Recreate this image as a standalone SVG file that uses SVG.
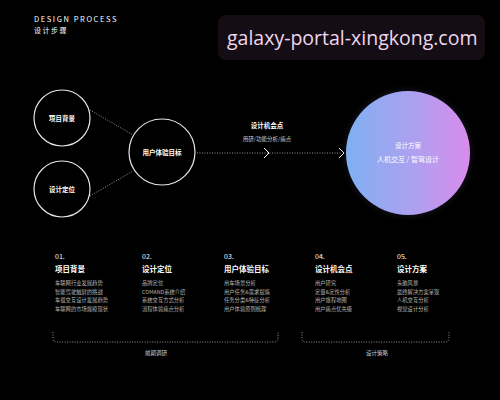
<svg xmlns="http://www.w3.org/2000/svg" width="500" height="400" viewBox="0 0 500 400">
<defs>
<linearGradient id="g" x1="0" y1="0" x2="1" y2="0">
<stop offset="0" stop-color="#7fb0f2"/>
<stop offset="0.5" stop-color="#a9a2f0"/>
<stop offset="1" stop-color="#d98cec"/>
</linearGradient>
<radialGradient id="glow" cx="0.5" cy="0.5" r="0.5">
<stop offset="0.8" stop-color="#7a6ab0" stop-opacity="0.35"/>
<stop offset="1" stop-color="#000" stop-opacity="0"/>
</radialGradient>
<style>
text{font-family:"Noto Sans CJK SC","Noto Sans",sans-serif;fill:#fff}
.ring{fill:none;stroke:#e6e6e6;stroke-width:1.2}
.lbl{font-size:6.5px;font-weight:bold;text-anchor:middle}
.dot{fill:none;stroke:#bbb;stroke-width:0.8;stroke-dasharray:1 1.5}
.num{font-size:7px}
.ttl{font-size:7.5px;font-weight:bold}
.ln{font-size:5.3px;fill:#b5b5b5}
.sm{font-size:5.5px;fill:#cfcfcf;text-anchor:middle}
</style>
</defs>
<rect width="500" height="400" fill="#000"/>
<text x="34" y="22" style="font-size:7.5px;letter-spacing:1.6px" font-family="Liberation Sans,sans-serif">DESIGN PROCESS</text>
<text x="34" y="33" style="font-size:7px;letter-spacing:1.5px">设计步骤</text>
<g id="watermark">
<rect x="218" y="15" width="267" height="45" rx="8" fill="#140e14"/>
<text x="227" y="45" style="font-size:19.5px;fill:#f0d6ee;font-family:'Open Sans',sans-serif">galaxy-portal-xingkong.com</text>
</g>
<g id="connectors">
<line class="dot" x1="90" y1="110" x2="133" y2="135"/>
<line class="dot" x1="90" y1="196" x2="133" y2="171"/>
<line class="dot" x1="197" y1="153" x2="342" y2="153"/>
<polyline points="264,148 269,153 264,158" fill="none" stroke="#fff" stroke-width="1"/>
<polyline points="339,148 344,153 339,158" fill="none" stroke="#fff" stroke-width="1"/>
<path class="dot" d="M53,332 v6 q0,4 4,4 h217 q4,0 4,-4 v-6"/>
<path class="dot" d="M302,332 v6 q0,4 4,4 h139 q4,0 4,-4 v-6"/>
</g>
<g id="n1"><circle class="ring" cx="62" cy="118" r="28"/><text class="lbl" x="62" y="120.5">项目背景</text></g>
<g id="n2"><circle class="ring" cx="62" cy="189" r="28"/><text class="lbl" x="62" y="191.5">设计定位</text></g>
<g id="n3"><circle class="ring" cx="162" cy="152" r="33"/><text class="lbl" x="162" y="154.5">用户体验目标</text></g>
<g id="label-mid">
<text class="lbl" x="267" y="128">设计机会点</text>
<text class="sm" x="267" y="141">用研/功能分析/痛点</text>
</g>
<g id="n4">
<circle cx="408" cy="153" r="70" fill="url(#glow)"/>
<circle cx="408" cy="153" r="62" fill="url(#g)"/>
<text x="408" y="148" style="font-size:6.5px;text-anchor:middle">设计方案</text>
<text x="408" y="162" style="font-size:7px;text-anchor:middle">人机交互 / 智驾设计</text>
</g>
<g id="col1">
<text class="num" x="55" y="259">01.</text>
<text class="ttl" x="55" y="272">项目背景</text>
<text class="ln" x="55" y="285">车联网行业发展趋势</text>
<text class="ln" x="55" y="293.5">智能驾驶触屏的挑战</text>
<text class="ln" x="55" y="302">车载交互设计发展趋势</text>
<text class="ln" x="55" y="310.5">车联网的市场规模现状</text>
</g>
<g id="col2">
<text class="num" x="142" y="259">02.</text>
<text class="ttl" x="142" y="272">设计定位</text>
<text class="ln" x="142" y="285">品牌定位</text>
<text class="ln" x="142" y="293.5">COMAND系统介绍</text>
<text class="ln" x="142" y="302">系统交互方式分析</text>
<text class="ln" x="142" y="310.5">流程体验痛点分析</text>
</g>
<g id="col3">
<text class="num" x="224" y="259">03.</text>
<text class="ttl" x="224" y="272">用户体验目标</text>
<text class="ln" x="224" y="285">用车场景分析</text>
<text class="ln" x="224" y="293.5">用户任务&amp;需求提炼</text>
<text class="ln" x="224" y="302">任务分类&amp;特征分析</text>
<text class="ln" x="224" y="310.5">用户体验原则梳理</text>
</g>
<g id="col4">
<text class="num" x="315" y="259">04.</text>
<text class="ttl" x="315" y="272">设计机会点</text>
<text class="ln" x="315" y="285">用户研究</text>
<text class="ln" x="315" y="293.5">定量&amp;定性分析</text>
<text class="ln" x="315" y="302">用户旅程地图</text>
<text class="ln" x="315" y="310.5">用户痛点优先级</text>
</g>
<g id="col5">
<text class="num" x="397" y="259">05.</text>
<text class="ttl" x="397" y="272">设计方案</text>
<text class="ln" x="397" y="285">头脑风暴</text>
<text class="ln" x="397" y="293.5">最终解决方案呈现</text>
<text class="ln" x="397" y="302">人机交互分析</text>
<text class="ln" x="397" y="310.5">视觉设计分析</text>
</g>
<text class="sm" x="156" y="355">前期调研</text>
<text class="sm" x="377" y="355">设计策略</text>
</svg>
